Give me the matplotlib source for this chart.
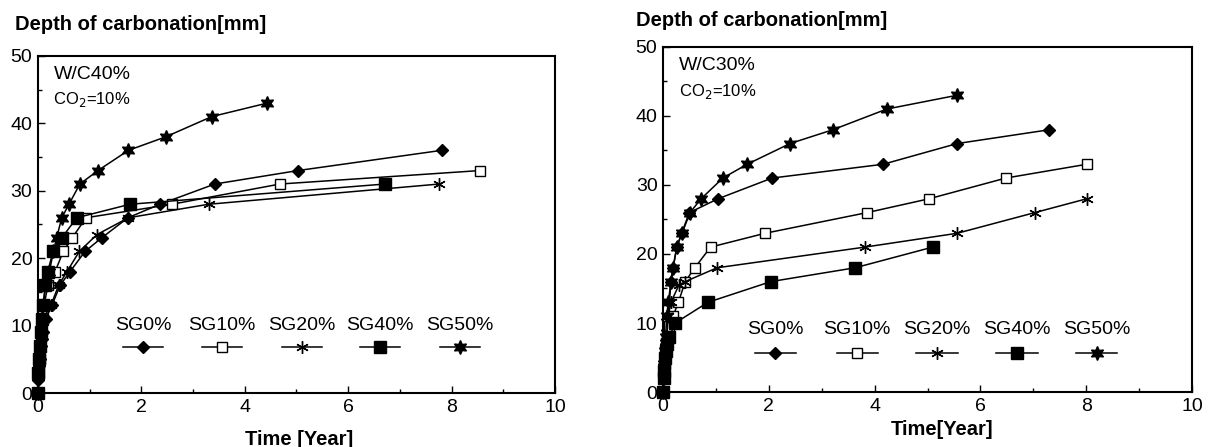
import matplotlib
matplotlib.use("Agg")
import matplotlib.pyplot as plt

plt.rcParams["font.family"] = ["Liberation Sans", "DejaVu Sans"]

# series labels, shared by both panels
labels = ["SG0%", "SG10%", "SG20%", "SG40%", "SG50%"]

# ---- W/C 40% (left panel), time in years, depth in mm ----
t40_sg0 = [0, 0.01, 0.02, 0.03, 0.05, 0.07, 0.1, 0.15, 0.27, 0.43, 0.62, 0.91, 1.23, 1.74, 2.36, 3.42, 5.03, 7.81]
d40_sg0 = [0, 2, 4, 5, 7, 8, 9, 11, 13, 16, 18, 21, 23, 26, 28, 31, 33, 36]
t40_sg10 = [0, 0.015, 0.03, 0.04, 0.06, 0.08, 0.12, 0.19, 0.33, 0.49, 0.66, 0.93, 2.59, 4.68, 8.55]
d40_sg10 = [0, 3, 5, 7, 9, 11, 13, 16, 18, 21, 23, 26, 28, 31, 33]
t40_sg20 = [0, 0.01, 0.02, 0.04, 0.06, 0.1, 0.25, 0.4, 0.56, 0.8, 1.14, 1.75, 3.3, 7.76]
d40_sg20 = [0, 3, 5, 7, 9, 11, 13, 16, 18, 21, 23.5, 26, 28, 31]
t40_sg40 = [0, 0.01, 0.02, 0.03, 0.05, 0.07, 0.1, 0.14, 0.19, 0.29, 0.46, 0.75, 1.78, 6.71]
d40_sg40 = [0, 3, 5, 7, 9, 11, 13, 16, 18, 21, 23, 26, 28, 31]
t40_sg50 = [0, 0.01, 0.02, 0.03, 0.05, 0.07, 0.1, 0.15, 0.22, 0.3, 0.36, 0.46, 0.6, 0.81, 1.16, 1.75, 2.47, 3.36, 4.43]
d40_sg50 = [0, 3, 5, 7, 9, 11, 13, 16, 18, 21, 23, 26, 28, 31, 33, 36, 38, 41, 43]

# ---- W/C 30% (right panel) ----
t30_sg0 = [0, 0.01, 0.02, 0.03, 0.05, 0.07, 0.1, 0.15, 0.19, 0.26, 0.35, 0.5, 1.04, 2.06, 4.16, 5.56, 7.3]
d30_sg0 = [0, 2, 4, 5, 7, 9, 11, 16, 18, 21, 23, 26, 28, 31, 33, 36, 38]
t30_sg10 = [0, 0.01, 0.03, 0.05, 0.08, 0.12, 0.19, 0.29, 0.42, 0.6, 0.9, 1.93, 3.86, 5.03, 6.48, 8.01]
d30_sg10 = [0, 2, 4, 6, 8, 9.5, 11, 13, 16, 18, 21, 23, 26, 28, 31, 33]
t30_sg20 = [0, 0.01, 0.02, 0.04, 0.07, 0.1, 0.15, 0.3, 0.42, 1.02, 3.82, 5.56, 7.03, 8.01]
d30_sg20 = [0, 2, 4, 6, 8, 11, 13, 15.5, 16, 18, 21, 23, 26, 28]
t30_sg40 = [0, 0.01, 0.02, 0.03, 0.05, 0.08, 0.12, 0.23, 0.85, 2.04, 3.63, 5.1]
d30_sg40 = [0, 2, 3, 5, 6, 7, 8, 10, 13, 16, 18, 21]
t30_sg50 = [0, 0.01, 0.02, 0.03, 0.05, 0.07, 0.1, 0.15, 0.19, 0.26, 0.36, 0.51, 0.72, 1.13, 1.59, 2.4, 3.21, 4.23, 5.56]
d30_sg50 = [0, 2, 4, 6, 8, 11, 13, 16, 18, 21, 23, 26, 28, 31, 33, 36, 38, 41, 43]

# marker style per series: (marker, size, face colour)
styles = [("D", 6, "black"), ("s", 7.5, "white"), ((6, 2, 0), 9, "black"),
          ("s", 8, "black"), ((6, 1, 0), 10, "black")]

fig = plt.figure(figsize=(12.13, 4.47), dpi=100)
ax1 = fig.add_axes([0.0313, 0.1208, 0.4262, 0.754])
ax2 = fig.add_axes([0.5466, 0.123, 0.4361, 0.772])

panels = [
    (ax1, [(t40_sg0, d40_sg0), (t40_sg10, d40_sg10), (t40_sg20, d40_sg20),
           (t40_sg40, d40_sg40), (t40_sg50, d40_sg50)], "W/C40%",
     [0.203, 0.356, 0.511, 0.661, 0.816], 0.2, 0.137),
    (ax2, [(t30_sg0, d30_sg0), (t30_sg10, d30_sg10), (t30_sg20, d30_sg20),
           (t30_sg40, d30_sg40), (t30_sg50, d30_sg50)], "W/C30%",
     [0.212, 0.367, 0.518, 0.669, 0.82], 0.18, 0.113),
]

for ax, series, wc, leg_x, leg_ty, leg_my in panels:
    for (t, d), (mk, ms, fc) in zip(series, styles):
        ax.plot(t, d, color="black", lw=1.1, marker=mk, ms=ms, mfc=fc,
                mec="black", mew=1.0, clip_on=False, zorder=3)

    # legend: label above a short line with the marker
    for lab, x, (mk, ms, fc) in zip(labels, leg_x, styles):
        ax.text(x, leg_ty, lab, transform=ax.transAxes, ha="center",
                va="center", fontsize=14)
        ax.plot([x - 0.039, x + 0.039], [leg_my, leg_my], color="black",
                lw=1.1, transform=ax.transAxes)
        ax.plot([x], [leg_my], marker=mk, ms=ms, mfc=fc, mec="black",
                mew=1.0, transform=ax.transAxes, color="black")

    ax.text(0.03, 0.945, wc, transform=ax.transAxes, fontsize=14, va="center")
    ax.text(0.03, 0.87, "CO$_2$=10%", transform=ax.transAxes, fontsize=12,
            va="center")

    ax.set_xlim(0, 10)
    ax.set_ylim(0, 50)
    ax.set_xticks([0, 2, 4, 6, 8, 10])
    ax.set_xticks([1, 3, 5, 7, 9], minor=True)
    ax.set_yticks([0, 10, 20, 30, 40, 50])
    ax.set_yticks([5, 15, 25, 35, 45], minor=True)
    ax.tick_params(which="both", direction="in", labelsize=14, width=1.0)
    ax.tick_params(which="major", length=5, pad=4)
    ax.tick_params(which="minor", length=3)
    for sp in ax.spines.values():
        sp.set_linewidth(1.5)

fig.text(0.012, 0.945, "Depth of carbonation[mm]", fontsize=14.5,
         fontweight="bold", va="center")
fig.text(0.524, 0.955, "Depth of carbonation[mm]", fontsize=14.5,
         fontweight="bold", va="center")
fig.text(0.247, 0.016, "Time [Year]", fontsize=14.5, fontweight="bold",
         ha="center", va="center")
fig.text(0.777, 0.04, "Time[Year]", fontsize=14.5, fontweight="bold",
         ha="center", va="center")

fig.savefig("out.png", dpi=100)
